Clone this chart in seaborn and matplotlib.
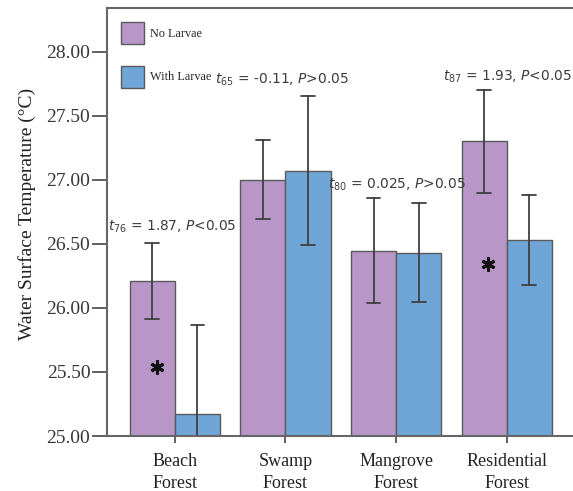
import matplotlib
matplotlib.use("Agg")
import matplotlib.pyplot as plt
import seaborn as sns
import pandas as pd

# ---- data ----
categories = ["Beach\nForest", "Swamp\nForest", "Mangrove\nForest", "Residential\nForest"]
groups = ["No Larvae", "With Larvae"]
no_larvae_mean = [26.21, 27.00, 26.445, 27.30]
no_larvae_err = [0.30, 0.31, 0.41, 0.40]
with_larvae_mean = [25.17, 27.07, 26.43, 26.53]
with_larvae_err = [0.70, 0.58, 0.385, 0.35]

ann_labels = [r"$t_{76}$ = 1.87, $P$<0.05", r"$t_{65}$ = -0.11, $P$>0.05",
              r"$t_{80}$ = 0.025, $P$>0.05", r"$t_{87}$ = 1.93, $P$<0.05"]
ann_x = [-0.02, 0.972, 2.01, 3.01]
ann_y = [26.63, 27.78, 26.96, 27.80]

star_x = [-0.16, 2.83]
star_y = [25.54, 26.34]

yticks = [25.0, 25.5, 26.0, 26.5, 27.0, 27.5, 28.0]

# ---- build table (low/high rows so the library computes mean and interval) ----
rows = []
for i, c in enumerate(categories):
    for g, m, e in ((groups[0], no_larvae_mean[i], no_larvae_err[i]),
                    (groups[1], with_larvae_mean[i], with_larvae_err[i])):
        rows.append({"site": c, "group": g, "temp": m - e})
        rows.append({"site": c, "group": g, "temp": m + e})
df = pd.DataFrame(rows)

sns.set_style("ticks")
plt.rcParams["mathtext.fontset"] = "dejavusans"

fig = plt.figure(figsize=(5.73, 4.91), dpi=100)
ax = fig.add_axes([107/573, 1 - 436/491, 1 - 107/573, (436 - 8)/491])

palette = {"No Larvae": "#B897C8", "With Larvae": "#6FA5D7"}
sns.barplot(data=df, x="site", y="temp", hue="group", order=categories,
            hue_order=groups, palette=palette, saturation=1, width=0.815,
            estimator="mean", errorbar=lambda v: (v.min(), v.max()),
            capsize=0.25, err_kws={"color": "#404040", "linewidth": 1.3},
            edgecolor="#5a5a5a", linewidth=1.0, ax=ax)

ax.set_ylim(25.0, 28.34)
ax.set_xlim(-0.614, 3.6)
ax.set_yticks(yticks)
ax.set_yticklabels([f"{t:.2f}" for t in yticks], fontfamily="Liberation Serif",
                   fontsize=14, color="#363636")
ax.set_xticks(range(len(categories)))
ax.set_xticklabels(categories, fontfamily="Liberation Serif", fontsize=13,
                   color="#222222", linespacing=1.4)
ax.tick_params(axis="y", length=11, width=1.3, color="#555555", pad=1)
ax.tick_params(axis="x", length=5, width=1.3, color="#555555", pad=7)
ax.set_xlabel("")
ax.set_ylabel("Water Surface Temperature (\u00b0C)", fontfamily="Liberation Serif",
              fontsize=14, color="#222222")
ax.yaxis.set_label_coords(-0.152, 0.519)

for s in ("left", "bottom", "top"):
    ax.spines[s].set_color("#666666")
    ax.spines[s].set_linewidth(1.5)
ax.spines["right"].set_visible(False)

for lbl, x, y in zip(ann_labels, ann_x, ann_y):
    ax.text(x, y, lbl, ha="center", va="center", fontsize=9.9,
            fontfamily="DejaVu Sans", color="#3c3c3c")

ax.plot(star_x, star_y, linestyle="none", marker=(6, 2, 0), markersize=10,
        markeredgewidth=2.2, color="#111111")

leg = ax.legend(loc="upper left", bbox_to_anchor=(0.030, 0.967), frameon=False,
                borderaxespad=0, borderpad=0, handlelength=1.9, handleheight=2.4,
                labelspacing=1.75, handletextpad=0.45,
                prop={"family": "Liberation Serif", "size": 8.8})
for h in leg.legend_handles:
    h.set_edgecolor("#5a5a5a")

fig.savefig("out.png", dpi=100)
